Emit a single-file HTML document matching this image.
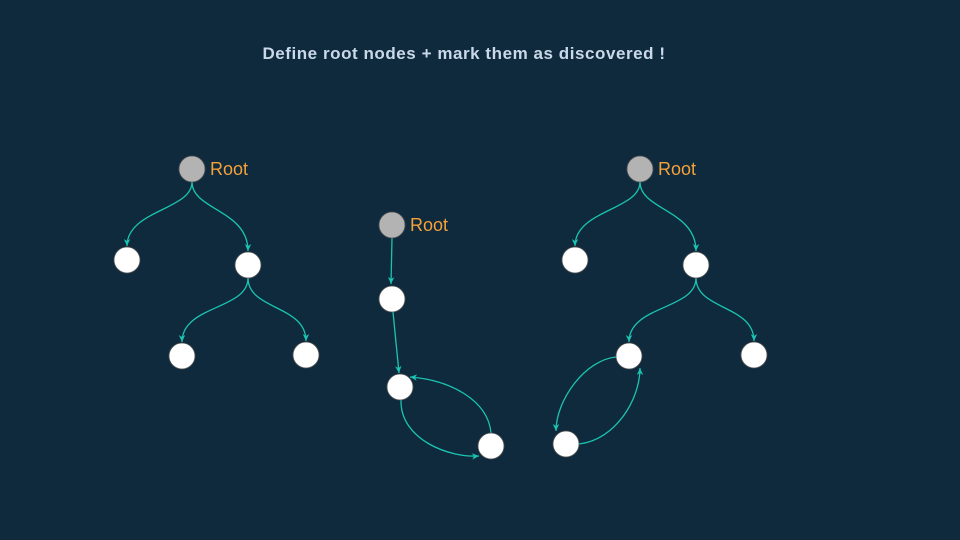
<!DOCTYPE html>
<html><head><style>
html,body{margin:0;padding:0;background:#0f293d;}
svg{display:block}
</style></head><body>
<svg width="960" height="540" viewBox="0 0 960 540" xmlns="http://www.w3.org/2000/svg">
<defs>
<marker id="a" markerWidth="8" markerHeight="8" refX="7" refY="4" orient="auto" markerUnits="userSpaceOnUse">
<path d="M0,0.8 L7,4 L0,7.2 L2,4 Z" fill="#1bc4b0"/>
</marker>
</defs>
<rect width="960" height="540" fill="#0f293d"/>
<text x="464" y="59" text-anchor="middle" font-family="Liberation Sans, sans-serif" font-weight="bold" font-size="17" letter-spacing="0.55" fill="#c9d9e8">Define root nodes + mark them as discovered !</text>
<g fill="none" stroke="#1bc4b0" stroke-width="1.3" marker-end="url(#a)">
<path d="M192,182 C192,210 127,210 127,246"/>
<path d="M192,182 C192,210 248,210 248,251"/>
<path d="M248,278 C248,310 182,305 182,342"/>
<path d="M248,278 C248,310 306,305 306,341"/>
<path d="M640,182 C640,210 575,210 575,246"/>
<path d="M640,182 C640,210 696,210 696,251"/>
<path d="M696,278 C696,310 629,305 629,342"/>
<path d="M696,278 C696,310 754,305 754,341"/>
<path d="M392,238 L391,284"/>
<path d="M393,312 L399,373"/>
<path d="M401,400 C400,440 450,458 479,456"/>
<path d="M491,433 C488,400 450,380 410,377"/>
<path d="M616,357 C585,360 556,400 556,431"/>
<path d="M579,444 C615,440 640,400 640,368"/>
</g>
<g stroke="#555" stroke-width="0.8" fill="#fff">
<circle cx="192" cy="169" r="13" fill="#b3b3b3"/>
<circle cx="127" cy="260" r="13"/>
<circle cx="248" cy="265" r="13"/>
<circle cx="182" cy="356" r="13"/>
<circle cx="306" cy="355" r="13"/>
<circle cx="392" cy="225" r="13" fill="#b3b3b3"/>
<circle cx="392" cy="299" r="13"/>
<circle cx="400" cy="387" r="13"/>
<circle cx="491" cy="446" r="13"/>
<circle cx="640" cy="169" r="13" fill="#b3b3b3"/>
<circle cx="575" cy="260" r="13"/>
<circle cx="696" cy="265" r="13"/>
<circle cx="629" cy="356" r="13"/>
<circle cx="754" cy="355" r="13"/>
<circle cx="566" cy="444" r="13"/>
</g>
<g font-family="Liberation Sans, sans-serif" font-size="18" fill="#f5a13a">
<text x="210" y="175">Root</text>
<text x="410" y="231">Root</text>
<text x="658" y="175">Root</text>
</g>
</svg>
</body></html>
